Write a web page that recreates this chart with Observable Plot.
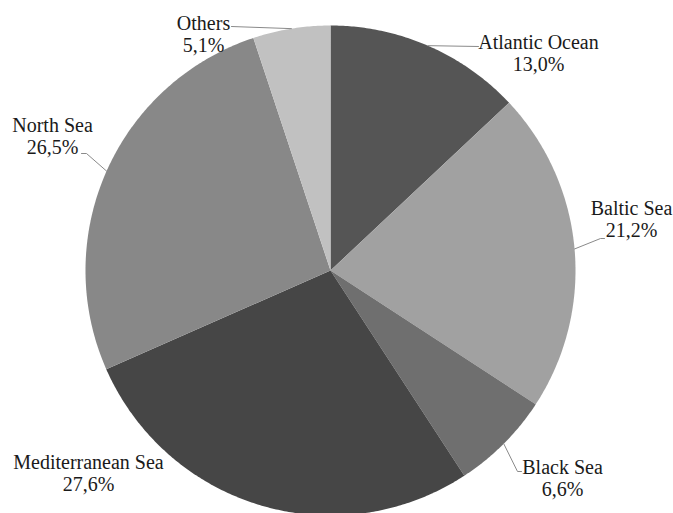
<!DOCTYPE html>
<html><head><meta charset="utf-8">
<script src="https://cdn.jsdelivr.net/npm/d3@7"></script>
<script src="https://cdn.jsdelivr.net/npm/@observablehq/plot@0.6"></script>
<style>body{margin:0;background:#fff}</style>
</head><body><div id="chart"></div>
<script>
// ---- data ----
const seas = ["Atlantic Ocean", "Baltic Sea", "Black Sea", "Mediterranean Sea", "North Sea", "Others"];
const shares = [13.0, 21.2, 6.6, 27.6, 26.5, 5.1];
const shareLabels = ["13,0%", "21,2%", "6,6%", "27,6%", "26,5%", "5,1%"];

// ---- styles / layout ----
const sliceColors = ["#555555", "#a1a1a1", "#6f6f6f", "#464646", "#888888", "#c1c1c1"];
const W = 673, H = 513, CX = 330, CY = 270, R = 245;
// label anchors and leader elbows (screen px)
const labelLayout = {
  "Atlantic Ocean":    {at: [538, 52],  leader: [[478, 46]]},
  "Baltic Sea":        {at: [631, 218], leader: [[600, 238], [604, 238]]},
  "Black Sea":         {at: [562, 477], leader: [[517, 471], [521, 471]]},
  "Mediterranean Sea": {at: [88, 472],  leader: null},
  "North Sea":         {at: [52, 135],  leader: [[86, 153], [81, 153]]},
  "Others":            {at: [203, 33],  leader: [[231, 26]]}
};
const toData = ([px, py]) => [(px - CX) / R, (CY - py) / R];
const polar = (a) => [Math.sin(a), Math.cos(a)];

const arcs = d3.pie().sort(null).value(d => d)(shares);

const slices = arcs.map((a, i) => {
  const ring = [[0, 0]];
  const n = Math.max(2, Math.ceil((a.endAngle - a.startAngle) / (Math.PI / 360)));
  for (let k = 0; k <= n; k++) ring.push(polar(a.startAngle + (a.endAngle - a.startAngle) * k / n));
  ring.push([0, 0]);
  return {type: "Feature", properties: {name: seas[i], color: sliceColors[i]},
          geometry: {type: "Polygon", coordinates: [ring]}};
});

const leaders = [];
arcs.forEach((a, i) => {
  const lay = labelLayout[seas[i]];
  if (!lay.leader) return;
  const mid = (a.startAngle + a.endAngle) / 2;
  const pts = [polar(mid), ...lay.leader.map(toData)];
  pts.forEach(([x, y]) => leaders.push({name: seas[i], x, y}));
});

const labels = seas.map((s, i) => {
  const [x, y] = toData(labelLayout[s].at);
  return {x, y, text: s + "\n" + shareLabels[i]};
});

const chart = Plot.plot({
  width: W, height: H,
  margin: 0,
  projection: {type: "reflect-y", domain: {type: "MultiPoint", coordinates: [toData([0, 0]), toData([W, H])]}},
  marks: [
    Plot.geo(slices, {fill: d => d.properties.color, stroke: "none"}),
    Plot.line(leaders, {x: "x", y: "y", z: "name", stroke: "#8a8a8a", strokeWidth: 1, curve: "linear"}),
    Plot.text(labels, {x: "x", y: "y", text: "text", fontSize: 20, lineHeight: 1.1,
      fontFamily: "Liberation Serif", fill: "#1a1a1a", textAnchor: "middle"})
  ]
});
document.getElementById("chart").appendChild(chart);
</script>
</body></html>
